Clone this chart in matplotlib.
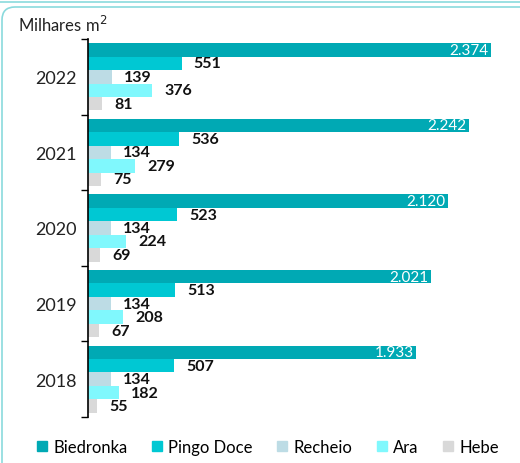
import matplotlib
matplotlib.use("Agg")
import matplotlib.pyplot as plt
from matplotlib.patches import FancyBboxPatch
from matplotlib.lines import Line2D
import numpy as np

years = ["2022", "2021", "2020", "2019", "2018"]
series = ["Biedronka", "Pingo Doce", "Recheio", "Ara", "Hebe"]
biedronka = [2374, 2242, 2120, 2021, 1933]
pingo_doce = [551, 536, 523, 513, 507]
recheio = [139, 134, 134, 134, 134]
ara = [376, 279, 224, 208, 182]
hebe = [81, 75, 69, 67, 55]
colors = ["#00a9b4", "#00c8d3", "#bddce5", "#80f8fd", "#d9d9d9"]

values = [biedronka, pingo_doce, recheio, ara, hebe]

plt.rcParams['font.family'] = ['Lato', 'DejaVu Sans']

W, H = 520, 464
fig = plt.figure(figsize=(W/100, H/100), dpi=100)

# frame
frame = FancyBboxPatch((2/W, -20/H), (W+20)/W, (H-8+20)/H,
                       boxstyle="round,pad=0,rounding_size=0.025",
                       transform=fig.transFigure, fill=False,
                       edgecolor="#8adadd", linewidth=1.2, mutation_aspect=W/H)
fig.patches.append(frame)
fig.add_artist(Line2D([0, 1], [1-2.5/H, 1-2.5/H], transform=fig.transFigure,
                      color="#8adadd", linewidth=1.2))

ax_left, ax_right = 88/W, 510/W
ax_bottom, ax_top = 1-418/H, 1-40/H
ax = fig.add_axes([ax_left, ax_bottom, ax_right-ax_left, ax_top-ax_bottom])

n = len(years)
nser = len(series)
bar_h = 0.178
centers = np.arange(n)[::-1].astype(float)  # 2022 at top
xmax = (510-88)/((491-88)/2374)

for j, (name, vals, c) in enumerate(zip(series, values, colors)):
    ys = centers + (nser-1)/2*bar_h - j*bar_h
    ax.barh(ys, vals, height=bar_h, color=c, label=name, linewidth=0)
    for y, v in zip(ys, vals):
        if j == 0:
            txt = f"{v:,}".replace(",", ".")
            ax.text(v - 0.006*xmax, y, txt, ha="right", va="center",
                    color="white", fontsize=11)
        else:
            ax.text(v + 0.029*xmax, y, f"{v}", ha="left", va="center",
                    color="#111111", fontsize=11.5, fontweight="bold")

ax.set_xlim(0, xmax)
ax.set_ylim(-0.5, n-0.5)
ax.set_yticks(centers)
ax.set_yticklabels(years, fontsize=13, color="#222222")
ax.tick_params(axis="y", which="major", length=0, pad=8)
ax.set_yticks(np.arange(n+1) - 0.5, minor=True)
ax.tick_params(axis="y", which="minor", length=5, width=1, color="black")
ax.set_xticks([])
for s in ["top", "right", "bottom"]:
    ax.spines[s].set_visible(False)
ax.spines["left"].set_linewidth(1.2)

fig.text(18/W, 1-25/H, "Milhares m$^2$", fontsize=12, color="#222222",
         ha="left", va="center")

handles = [plt.Rectangle((0, 0), 1, 1, color=c) for c in colors]
fig.legend(handles, series, loc="center", bbox_to_anchor=(268/W, 1-448/H),
           ncol=5, frameon=False, fontsize=12, handlelength=0.6, handleheight=0.6,
           columnspacing=1.45, handletextpad=0.4)

fig.savefig("out.png", dpi=100)
